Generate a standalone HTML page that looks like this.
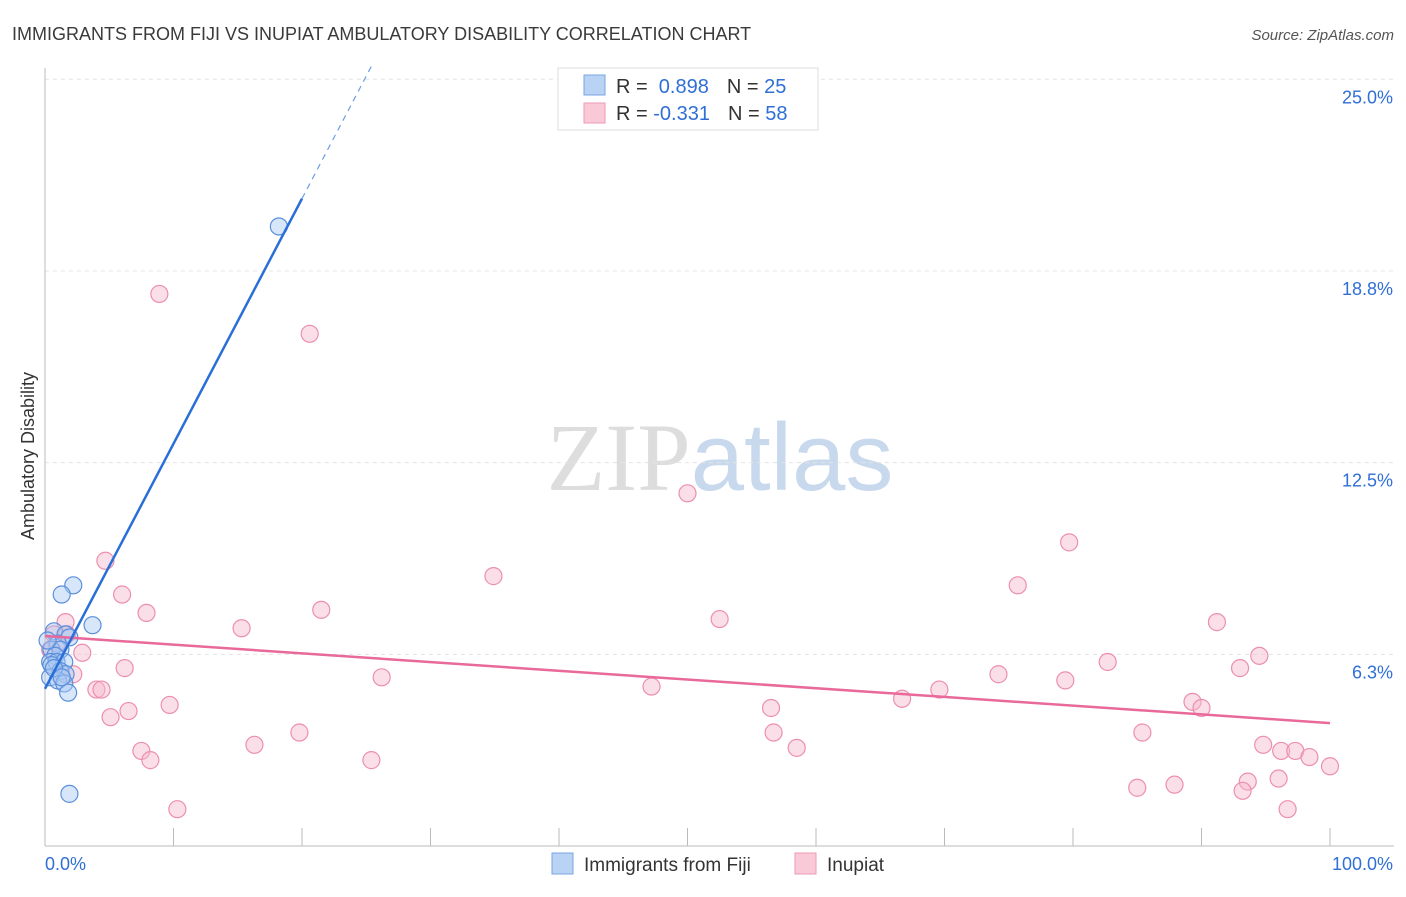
<!DOCTYPE html>
<html><head><meta charset="utf-8"><style>
body{margin:0;background:#fff;font-family:"Liberation Sans",sans-serif;}
</style></head><body>
<svg id="chart" width="1406" height="892" xmlns="http://www.w3.org/2000/svg" style="font-family:'Liberation Sans',sans-serif">
<text x="12" y="40" font-size="18" fill="#3a3a3a">IMMIGRANTS FROM FIJI VS INUPIAT AMBULATORY DISABILITY CORRELATION CHART</text>
<text x="1394" y="40" font-size="15" font-style="italic" fill="#555" text-anchor="end">Source: ZipAtlas.com</text>
<text x="720" y="490" font-size="96" text-anchor="middle" fill="#ddd" font-family="Liberation Serif">ZIP<tspan fill="#c8d9ee" font-family="Liberation Sans">atlas</tspan></text>
<text transform="translate(34,456) rotate(-90)" font-size="18" fill="#333" text-anchor="middle">Ambulatory Disability</text>
<g id="grid"></g><g id="axes"></g><g id="marks"></g>
<g>
<rect x="558" y="68" width="260" height="62" fill="#fff" stroke="#ddd"/>
<rect x="584" y="75" width="21" height="20" fill="#b9d3f5" stroke="#7aa6e3"/>
<text x="616" y="93" font-size="20" fill="#333">R = <tspan fill="#2f6fd6">&#160;0.898</tspan><tspan dx="18">N = </tspan><tspan fill="#2f6fd6">25</tspan></text>
<rect x="584" y="103" width="21" height="20" fill="#f9c9d8" stroke="#ee9ab5"/>
<text x="616" y="120" font-size="20" fill="#333">R = <tspan fill="#2f6fd6">-0.331</tspan><tspan dx="18">N = </tspan><tspan fill="#2f6fd6">58</tspan></text>
</g>
<g>
<rect x="552" y="853" width="21" height="21" fill="#b9d3f5" stroke="#7aa6e3"/>
<text x="584" y="871" font-size="19" fill="#333">Immigrants from Fiji</text>
<rect x="795" y="853" width="21" height="21" fill="#f9c9d8" stroke="#ee9ab5"/>
<text x="827" y="871" font-size="19" fill="#333">Inupiat</text>
</g>
</svg>
<script>
const yTicks=[6.25,12.5,18.75,25];
const yTickLabels=["6.3%","12.5%","18.8%","25.0%"];
const xLabels=["0.0%","100.0%"];
const fijiX=[18.2,2.2,1.3,3.7,0.7,1.6,1.9,1.0,0.5,1.2,0.8,0.4,0.9,1.5,0.5,1.2,1.6,0.4,1.0,1.5,1.8,1.9,0.2,0.7,1.3];
const fijiY=[20.2,8.5,8.2,7.2,7.0,6.9,6.8,6.6,6.4,6.4,6.2,6.0,6.0,6.0,5.9,5.7,5.6,5.5,5.4,5.3,5.0,1.7,6.7,5.8,5.5];
const inuX=[8.9,20.6,50.0,79.7,4.7,34.9,75.7,6.0,21.5,7.9,52.5,91.2,1.6,15.3,0.7,1.7,2.9,94.5,82.7,6.2,93.0,2.2,26.2,74.2,79.4,47.2,69.6,4.0,4.4,66.7,89.3,90.0,9.7,56.5,6.5,5.1,85.4,19.8,56.7,16.3,94.8,7.5,58.5,96.2,97.3,98.4,8.2,25.4,100,93.6,96.0,85.0,87.9,93.2,10.3,96.7,0.4,0.9];
const inuY=[18.0,16.7,11.5,9.9,9.3,8.8,8.5,8.2,7.7,7.6,7.4,7.3,7.3,7.1,6.9,6.9,6.3,6.2,6.0,5.8,5.8,5.6,5.5,5.6,5.4,5.2,5.1,5.1,5.1,4.8,4.7,4.5,4.6,4.5,4.4,4.2,3.7,3.7,3.7,3.3,3.3,3.1,3.2,3.1,3.1,2.9,2.8,2.8,2.6,2.1,2.2,1.9,2.0,1.8,1.2,1.2,6.4,6.6];
const NS="http://www.w3.org/2000/svg";
const X0=45,X1=1330,Y0=846,Ypp=30.67;
const sx=v=>X0+(X1-X0)*v/100, sy=v=>Y0-v*Ypp;
function el(tag,attrs,parent){const e=document.createElementNS(NS,tag);for(const k in attrs)e.setAttribute(k,attrs[k]);document.getElementById(parent).appendChild(e);return e;}
yTicks.forEach((t,i)=>{
 const g=el('line',{x1:X0,x2:1394,y1:sy(t),y2:sy(t),stroke:'#e4e4e4','stroke-dasharray':'4,4'},'grid');
 
 
 const l=el('text',{x:1393,y:sy(t)+24,'font-size':18,fill:'#2f6fd6','text-anchor':'end'},'axes');l.textContent=yTickLabels[i];
 
 
});
const ax=el('line',{x1:X0,x2:X0,y1:68,y2:Y0,stroke:'#bbb'},'axes');


const bx=el('line',{x1:X0,x2:1394,y1:Y0,y2:Y0,stroke:'#bbb'},'axes');


for(let i=1;i<=10;i++){const t=el('line',{x1:sx(i*10),x2:sx(i*10),y1:Y0,y2:Y0-18,stroke:'#bbb'},'axes');
 
 }
[[0,xLabels[0],'start',45],[100,xLabels[1],'end',1393]].forEach(a=>{const t=el('text',{x:a[3],y:870,'font-size':18,fill:'#2f6fd6','text-anchor':a[2]},'axes');t.textContent=a[1];
 
 });
function fit(xs,ys){const n=xs.length;let mx=0,my=0;for(let i=0;i<n;i++){mx+=xs[i];my+=ys[i];}mx/=n;my/=n;let sxy=0,sxx=0;for(let i=0;i<n;i++){sxy+=(xs[i]-mx)*(ys[i]-my);sxx+=(xs[i]-mx)**2;}const b=sxy/sxx;return [my-b*mx,b];}
function dots(xs,ys,fill,stroke,name){xs.forEach((x,i)=>{const c=el('circle',{cx:sx(x),cy:sy(ys[i]),r:8.5,fill:fill,'fill-opacity':0.45,stroke:stroke,'stroke-width':1.2},'marks');
 
 });}
dots(inuX,inuY,'#f7b8cc','#ec8fae','inupiat-point');
dots(fijiX,fijiY,'#a9c8f2','#5b8fdc','fiji-point');
const [ia,ib]=fit(inuX,inuY);
const pl=el('line',{x1:sx(0),y1:sy(ia),x2:sx(100),y2:sy(ia+ib*100),stroke:'#e8699a','stroke-width':2.5},'marks');


const [fa,fb]=fit(fijiX,fijiY);
const xmax=Math.max(...fijiX)+1.8;
const fl=el('line',{x1:sx(0),y1:sy(fa),x2:sx(xmax),y2:sy(fa+fb*xmax),stroke:'#2a6fd8','stroke-width':2.5},'marks');


const xe=(25.5-fa)/fb;
const fd=el('line',{x1:sx(xmax),y1:sy(fa+fb*xmax),x2:sx(xe),y2:sy(25.5),stroke:'#6b9ee6','stroke-width':1.2,'stroke-dasharray':'6,5'},'marks');


</script>
</body></html>
